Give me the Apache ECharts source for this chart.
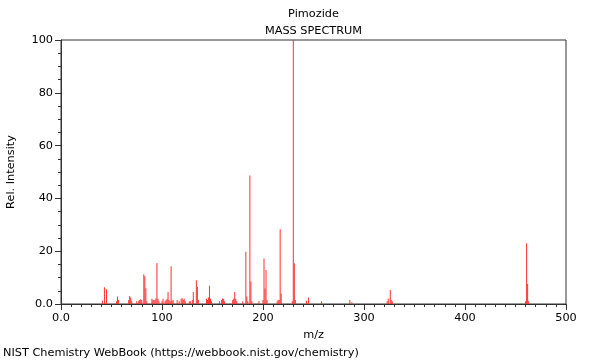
<!DOCTYPE html>
<html><head><meta charset="utf-8">
<script src="https://cdn.jsdelivr.net/npm/echarts@6/dist/echarts.min.js"></script>
<style>html,body{margin:0;padding:0;background:#fff}#c{width:600px;height:360px}</style>
</head><body><div id="c"></div>
<script>
var mz = [41,43,45,55,56,57,67,68,69,70,75,77,78,79,80,82,83,84,85,90,91,92,93,94,95,96,97,100,101,103,104,105,106,107,108,109,110,111,115,117,119,120,121,122,123,127,128,130,131,134,135,136,144,145,146,147,148,149,157,159,160,161,162,170,171,172,173,174,180,183,184,185,187,188,189,196,200,201,202,203,204,214,215,216,217,218,229,230,231,232,243,245,258,286,288,323,324,326,327,328,460,461,462,463];
var intensity = [1.2,6.3,5.6,1,2.8,1.5,1.5,3,2.5,1.2,1,1.2,1.5,1.8,1.5,11.3,10.5,6,1,2,1.5,1.5,1.5,2.2,15.5,2,1,1,2,1,1.5,2,4.5,1.5,1,14.3,1.2,1.5,1.5,1,2,2.2,1.5,2,1,1,1,1.5,4.5,9,6.5,1.5,2,1.5,2.5,6.9,2,1,1,1.5,2.1,2,1,1.5,2,4.5,2,1,1,19.8,2.8,1,48.7,8.5,1,1,1.5,17.2,5.9,12.9,1.5,1,1.5,1.5,28.3,4,1,100,15.4,1.5,1.2,2.5,1,1.5,0.7,1,2.1,5.3,1.5,1,1,23,7.6,1];
var xTicks = [0,100,200,300,400,500];
var yTicks = [0,20,40,60,80,100];
var chartTitle = 'Pimozide';
var chartSubtitle = 'MASS SPECTRUM';
var footer = 'NIST Chemistry WebBook (https://webbook.nist.gov/chemistry)';

var data = mz.map(function(m,i){return [m,intensity[i]];});
var font = 'DejaVu Sans';
var fs = 11.3;
var axisColor = '#333';
var ts = {fontFamily:font,fontSize:fs,fontWeight:'normal',color:'#000'};
var chart = echarts.init(document.getElementById('c'), null, {renderer:'canvas'});
chart.setOption({
  animation:false,
  title:[
    {text:chartTitle,left:313.5,top:9,padding:0,textAlign:'center',textStyle:ts},
    {text:chartSubtitle,left:313.5,top:26,padding:0,textAlign:'center',textStyle:ts},
    {text:footer,left:3,top:348,padding:0,textStyle:ts}
  ],
  grid:{left:61,right:34,top:40,bottom:56,containLabel:false,outerBoundsMode:'none',show:true,borderColor:axisColor,borderWidth:1,backgroundColor:'transparent'},
  xAxis:{type:'value',min:xTicks[0],max:xTicks[xTicks.length-1],interval:100,
    name:'m/z',nameLocation:'middle',nameGap:26,nameTextStyle:{fontFamily:font,fontSize:fs,color:'#000'},
    axisLine:{show:true,onZero:false,lineStyle:{color:axisColor}},
    axisTick:{show:true,length:6,lineStyle:{color:axisColor}},
    minorTick:{show:true,splitNumber:10,length:3,lineStyle:{color:axisColor}},
    splitLine:{show:false},
    axisLabel:{fontFamily:font,fontSize:fs,color:'#000',margin:9,formatter:function(v){return v===0?'0.0':String(v);}}
  },
  yAxis:{type:'value',min:yTicks[0],max:yTicks[yTicks.length-1],interval:20,
    name:'Rel. Intensity',nameLocation:'middle',nameGap:44,nameTextStyle:{fontFamily:font,fontSize:fs,color:'#000'},
    axisLine:{show:true,lineStyle:{color:axisColor}},
    axisTick:{show:true,length:6,lineStyle:{color:axisColor}},
    minorTick:{show:true,splitNumber:4,length:3,lineStyle:{color:axisColor}},
    splitLine:{show:false},
    axisLabel:{fontFamily:font,fontSize:fs,color:'#000',margin:8,formatter:function(v){return v===0?'0.0':String(v);}}
  },
  series:[{type:'bar',data:data,barWidth:1,itemStyle:{color:'#ff3030'},silent:true}]
});
</script></body></html>
